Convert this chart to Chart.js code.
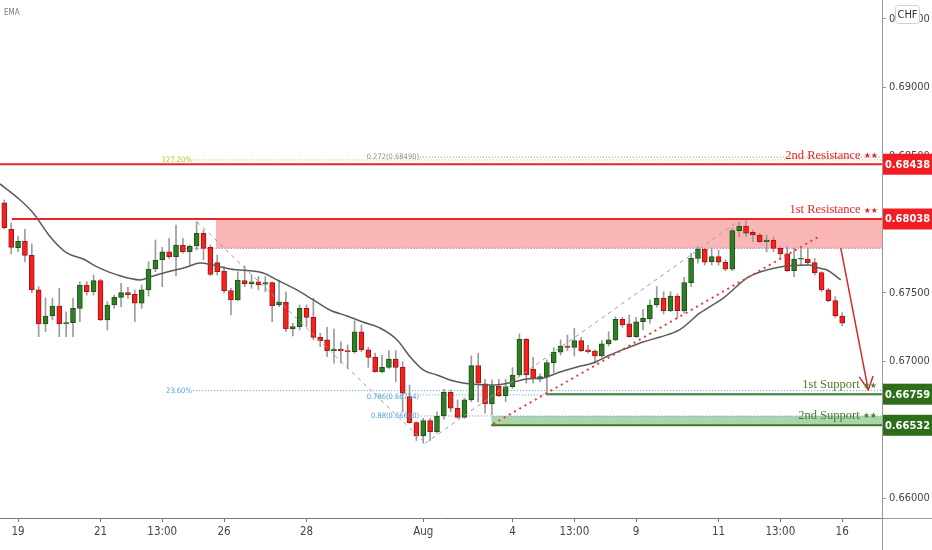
<!DOCTYPE html>
<html lang="en">
<head>
<meta charset="UTF-8" />
<title>USDCHF 4H</title>
<script src="https://cdn.jsdelivr.net/npm/chart.js"></script>
<style>
  html, body { margin: 0; padding: 0; background: #fff; }
  #wrap { width: 932px; height: 550px; }
</style>
</head>
<body>
<div id="wrap"><canvas id="chart" width="932" height="550"></canvas></div>
<script>
// 4h candles, index 0 = first bar on the left
const opens = [
  0.68157, 0.67963, 0.67829, 0.67875, 0.67773, 0.67520, 0.67272, 0.67330, 0.67403, 0.67272,
  0.67281, 0.67386, 0.67556, 0.67507, 0.67588, 0.67301, 0.67410, 0.67466, 0.67500, 0.67488,
  0.67423, 0.67520, 0.67673, 0.67739, 0.67799, 0.67763, 0.67848, 0.67799, 0.67841, 0.67934,
  0.67831, 0.67719, 0.67658, 0.67515, 0.67447, 0.67588, 0.67564, 0.67580, 0.67562, 0.67573,
  0.67410, 0.67430, 0.67235, 0.67252, 0.67386, 0.67320, 0.67174, 0.67155, 0.67077, 0.67089,
  0.67077, 0.67069, 0.67215, 0.67082, 0.67028, 0.66923, 0.66955, 0.67016, 0.66955, 0.66741,
  0.66551, 0.66454, 0.66566, 0.66485, 0.66600, 0.66773, 0.66656, 0.66590, 0.66717, 0.66967,
  0.66834, 0.66688, 0.66819, 0.66746, 0.66814, 0.66899, 0.67160, 0.66941, 0.66868, 0.66887,
  0.66989, 0.67065, 0.67111, 0.67101, 0.67150, 0.67082, 0.67074, 0.67038, 0.67126, 0.67155,
  0.67306, 0.67272, 0.67179, 0.67288, 0.67308, 0.67410, 0.67459, 0.67369, 0.67476, 0.67369,
  0.67573, 0.67751, 0.67819, 0.67726, 0.67763, 0.67722, 0.67671, 0.67953, 0.67987, 0.67941,
  0.67921, 0.67872, 0.67885, 0.67824, 0.67783, 0.67661, 0.67744, 0.67746, 0.67719, 0.67646,
  0.67520, 0.67442, 0.67330
];
const highs = [
  0.68177, 0.68009, 0.67914, 0.67963, 0.67856, 0.67544, 0.67461, 0.67459, 0.67532, 0.67361,
  0.67459, 0.67580, 0.67580, 0.67629, 0.67598, 0.67434, 0.67483, 0.67569, 0.67539, 0.67520,
  0.67556, 0.67726, 0.67885, 0.67831, 0.67897, 0.67994, 0.67897, 0.67848, 0.68018, 0.67958,
  0.67848, 0.67775, 0.67690, 0.67532, 0.67653, 0.67695, 0.67629, 0.67617, 0.67617, 0.67580,
  0.67593, 0.67507, 0.67277, 0.67410, 0.67410, 0.67459, 0.67204, 0.67247, 0.67235, 0.67142,
  0.67118, 0.67296, 0.67264, 0.67101, 0.67058, 0.67045, 0.67077, 0.67077, 0.66996, 0.66826,
  0.66558, 0.66583, 0.66583, 0.66631, 0.66795, 0.66790, 0.66717, 0.66731, 0.67038, 0.67058,
  0.66868, 0.66863, 0.66868, 0.66868, 0.66953, 0.67199, 0.67167, 0.67028, 0.66907, 0.67009,
  0.67099, 0.67155, 0.67191, 0.67240, 0.67174, 0.67118, 0.67082, 0.67150, 0.67215, 0.67325,
  0.67320, 0.67337, 0.67320, 0.67379, 0.67447, 0.67544, 0.67507, 0.67507, 0.67491, 0.67612,
  0.67788, 0.67836, 0.67824, 0.67824, 0.67812, 0.67739, 0.67970, 0.68018, 0.68026, 0.67958,
  0.67934, 0.67921, 0.67909, 0.67836, 0.67836, 0.67824, 0.67824, 0.67824, 0.67751, 0.67653,
  0.67532, 0.67471, 0.67354
];
const lows = [
  0.67965, 0.67783, 0.67799, 0.67726, 0.67500, 0.67179, 0.67215, 0.67301, 0.67179, 0.67179,
  0.67179, 0.67288, 0.67483, 0.67483, 0.67296, 0.67228, 0.67386, 0.67398, 0.67459, 0.67288,
  0.67386, 0.67476, 0.67653, 0.67544, 0.67751, 0.67622, 0.67788, 0.67702, 0.67812, 0.67739,
  0.67625, 0.67629, 0.67496, 0.67337, 0.67442, 0.67544, 0.67532, 0.67520, 0.67507, 0.67288,
  0.67398, 0.67215, 0.67184, 0.67228, 0.67252, 0.67155, 0.67106, 0.67033, 0.66985, 0.66985,
  0.66948, 0.67058, 0.67069, 0.66955, 0.66919, 0.66916, 0.66948, 0.66850, 0.66631, 0.66547,
  0.66420, 0.66401, 0.66420, 0.66474, 0.66576, 0.66631, 0.66583, 0.66585, 0.66704, 0.66704,
  0.66620, 0.66607, 0.66741, 0.66704, 0.66802, 0.66887, 0.66839, 0.66839, 0.66850, 0.66761,
  0.66916, 0.67045, 0.67077, 0.67038, 0.67069, 0.67058, 0.66985, 0.67028, 0.67111, 0.67150,
  0.67247, 0.67174, 0.67174, 0.67228, 0.67277, 0.67393, 0.67345, 0.67361, 0.67313, 0.67350,
  0.67544, 0.67715, 0.67702, 0.67702, 0.67702, 0.67661, 0.67661, 0.67909, 0.67909, 0.67872,
  0.67865, 0.67799, 0.67799, 0.67751, 0.67653, 0.67617, 0.67702, 0.67702, 0.67629, 0.67507,
  0.67434, 0.67320, 0.67257
];
const closes = [
  0.67974, 0.67831, 0.67875, 0.67773, 0.67520, 0.67272, 0.67330, 0.67403, 0.67272, 0.67281,
  0.67386, 0.67556, 0.67507, 0.67588, 0.67301, 0.67410, 0.67466, 0.67500, 0.67485, 0.67423,
  0.67520, 0.67673, 0.67739, 0.67799, 0.67763, 0.67848, 0.67799, 0.67841, 0.67934, 0.67824,
  0.67634, 0.67653, 0.67515, 0.67447, 0.67593, 0.67564, 0.67580, 0.67556, 0.67573, 0.67405,
  0.67434, 0.67235, 0.67252, 0.67386, 0.67320, 0.67174, 0.67150, 0.67077, 0.67089, 0.67077,
  0.67069, 0.67215, 0.67082, 0.67028, 0.66923, 0.66955, 0.67016, 0.66955, 0.66766, 0.66551,
  0.66454, 0.66566, 0.66485, 0.66600, 0.66773, 0.66656, 0.66590, 0.66717, 0.66967, 0.66839,
  0.66688, 0.66819, 0.66746, 0.66814, 0.66899, 0.67160, 0.66899, 0.66875, 0.66887, 0.66989,
  0.67065, 0.67111, 0.67101, 0.67150, 0.67077, 0.67069, 0.67038, 0.67126, 0.67155, 0.67306,
  0.67264, 0.67179, 0.67288, 0.67313, 0.67410, 0.67459, 0.67369, 0.67476, 0.67369, 0.67573,
  0.67751, 0.67819, 0.67722, 0.67763, 0.67722, 0.67671, 0.67953, 0.67987, 0.67934, 0.67921,
  0.67872, 0.67885, 0.67824, 0.67783, 0.67661, 0.67746, 0.67751, 0.67719, 0.67646, 0.67520,
  0.67442, 0.67330, 0.67277
];

// EMA (bar index, price)
const emaX = [-0.63, 2.3, 4.2, 6.7, 9.1, 11.5, 13.5, 16.4, 19.8, 21.2, 23.7, 26.6, 28.5, 30.4, 32.9,
  37.7, 39.7, 42.6, 45.0, 47.4, 49.9, 52.2, 54.7, 57.2, 59.1, 61.0, 63.0, 64.9, 66.8, 71.2, 74.1,
  76.1, 78.4, 80.9, 83.4, 85.7, 88.2, 90.7, 93.0, 95.5, 98.3, 101.3, 104.7, 108.4, 113.0, 117.2,
  118.6, 119.8, 121.8];
const emaY = [0.68294, 0.68177, 0.68082, 0.67907, 0.67790, 0.67746, 0.67688, 0.67630, 0.67593,
  0.67615, 0.67651, 0.67688, 0.67717, 0.67702, 0.67673, 0.67644, 0.67593, 0.67520, 0.67447,
  0.67374, 0.67330, 0.67286, 0.67242, 0.67155, 0.67031, 0.66936, 0.66899, 0.66863, 0.66841,
  0.66826, 0.66848, 0.66870, 0.66877, 0.66921, 0.66958, 0.66987, 0.67045, 0.67096, 0.67140,
  0.67177, 0.67228, 0.67352, 0.67461, 0.67615, 0.67688, 0.67702, 0.67680, 0.67666, 0.67593];

// time axis
const tickPos = [2, 14, 23, 32, 44, 61, 74, 83, 92, 104, 113, 122];
const tickLabels = ["19", "21", "13:00", "26", "28", "Aug", "4", "13:00", "9", "11", "13:00", "16"];
const priceTicks = [0.660, 0.665, 0.670, 0.675, 0.680, 0.685, 0.690, 0.695];

// levels
const resistance2 = 0.68438, resistance1 = 0.68038, resZoneLow = 0.67824;
const support1 = 0.66759, support2 = 0.66532, supZoneTop = 0.66600;
const fib272 = 0.68490, fib1272 = 0.68469, fib236 = 0.66785, fib786 = 0.66754, fib88 = 0.66600;

const xMin = -0.63, xMax = 127.8, yMin = 0.65855, yMax = 0.69637;
const RED = '#e8232a', GREEN = '#3a7a22', FIBBLUE = '#4d9fdc';
const AXIS_FONT = "'Liberation Sans Narrow', 'DejaVu Sans Condensed', sans-serif";

const up = closes.map((c, i) => c >= opens[i]);

function hline(v, x0, color, width, dash, order) {
  return {
    type: 'line', data: [{ x: x0, y: v }, { x: xMax, y: v }],
    borderColor: color, borderWidth: width, borderDash: dash || [],
    pointRadius: 0, fill: false, order: order
  };
}
function seg(x0, y0, x1, y1, color, width, dash, order) {
  return {
    type: 'line', data: [{ x: x0, y: y0 }, { x: x1, y: y1 }],
    borderColor: color, borderWidth: width, borderDash: dash || [],
    pointRadius: 0, fill: false, order: order
  };
}
function zone(top, bottom, x0, color) {
  return {
    type: 'line', data: [{ x: x0, y: top }, { x: xMax, y: top }],
    fill: { value: bottom }, backgroundColor: color,
    borderWidth: 0, pointRadius: 0, order: 20
  };
}

const datasets = [
  zone(resistance1, resZoneLow, 30.8, 'rgba(243, 70, 70, 0.40)'),
  zone(supZoneTop, support2, 70.9, 'rgba(60, 150, 60, 0.42)'),
  hline(resistance2, xMin, RED, 2, [], 8),
  hline(resistance1, 1.1, RED, 2, [], 8),
  hline(resZoneLow, 25.1, '#9b3fc4', 1, [1, 2], 8),
  hline(fib1272, 27.5, '#b5c21a', 1, [1, 2], 8),
  hline(fib272, 60.5, '#8c8c8c', 1, [1, 2], 8),
  hline(fib236, 27.5, FIBBLUE, 1, [1, 2], 8),
  hline(fib786, 60.5, FIBBLUE, 1, [1, 2], 8),
  hline(fib88, 60.7, FIBBLUE, 1, [1, 2], 8),
  hline(support1, 78.9, GREEN, 2, [], 8),
  hline(support2, 70.9, GREEN, 2, [], 8),
  {
    type: 'bar', label: 'wick',
    data: highs.map((h, i) => ({ x: i, y: [lows[i], h] })),
    backgroundColor: '#9c9c9c', barThickness: 1, grouped: false, order: 4
  },
  {
    type: 'bar', label: 'body',
    data: opens.map((o, i) => ({ x: i, y: [o, closes[i]] })),
    backgroundColor: up.map(u => u ? '#2f7d25' : '#f4221f'),
    borderColor: up.map(u => u ? '#1d5216' : '#a31313'),
    borderWidth: 1, borderSkipped: false, barThickness: 5, grouped: false, order: 3
  },
  {
    type: 'line', label: 'EMA',
    data: emaX.map((x, k) => ({ x: x, y: emaY[k] })),
    borderColor: '#5a5a5a', borderWidth: 1.5, pointRadius: 0,
    cubicInterpolationMode: 'monotone', fill: false, order: 2
  },
  seg(28.06, 0.68018, 61.3, 0.66401, '#9a9da6', 1, [4, 4], 1),
  seg(61.3, 0.66401, 106.8, 0.68018, '#9a9da6', 1, [4, 4], 1),
  seg(71.2, 0.66542, 118.5, 0.67907, '#ea3a3a', 2, [2, 4], 1),
  // projected move
  seg(121.8, 0.67826, 125.8, 0.66790, '#d42a2a', 1.5, [], 0),
  {
    type: 'line', data: [{ x: 124.5, y: 0.66885 }, { x: 125.8, y: 0.66790 }, { x: 126.5, y: 0.66892 }],
    borderColor: '#d42a2a', borderWidth: 1.5, pointRadius: 0, fill: false, order: 0
  }
];

function starLabel(ctx, text, right, y, color) {
  ctx.fillStyle = color;
  ctx.textBaseline = 'middle';
  ctx.textAlign = 'right';
  ctx.font = "8px 'DejaVu Sans'";
  const sw = ctx.measureText('★★').width;
  ctx.fillText('★★', right, y + 1);
  ctx.font = "12.5px 'Liberation Serif', serif";
  ctx.fillText(text, right - sw - 3, y);
}

const overlay = {
  id: 'overlay',
  afterDatasetsDraw(chart) {
    const ctx = chart.ctx, xs = chart.scales.x, ys = chart.scales.y;
    const X = v => xs.getPixelForValue(v), Y = v => ys.getPixelForValue(v);
    ctx.save();
    starLabel(ctx, '2nd Resistance', 878, Y(resistance2) - 9, RED);
    starLabel(ctx, '1st Resistance', 878, Y(resistance1) - 9, RED);
    starLabel(ctx, '1st Support', 877, Y(support1) - 9, '#4d7d2c');
    starLabel(ctx, '2nd Support', 877, Y(support2) - 10, '#4d7d2c');

    ctx.font = "7.5px " + AXIS_FONT;
    ctx.textBaseline = 'middle';
    ctx.textAlign = 'right';
    ctx.fillStyle = '#b5c21a';
    ctx.fillText('127.20%', X(27.3), Y(fib1272));
    ctx.fillStyle = '#8c8c8c';
    ctx.fillText('0.272(0.68490)', X(60.4), Y(fib272));
    ctx.fillStyle = FIBBLUE;
    ctx.fillText('23.60%', X(27.3), Y(fib236));
    ctx.fillText('0.786(0.66754)', X(60.4), Y(fib786) + 2);
    ctx.fillText('0.88(0.66600)', X(60.4), Y(fib88));

    ctx.fillStyle = '#7a7a7a';
    ctx.textAlign = 'left';
    ctx.font = "8px " + AXIS_FONT;
    ctx.fillText('EMA', 4, 13);
    ctx.restore();
  },
  afterDraw(chart) {
    const ctx = chart.ctx, ys = chart.scales.y, area = chart.chartArea;
    ctx.save();
    ctx.strokeStyle = '#9a9a9a';
    ctx.lineWidth = 1;
    ctx.beginPath();
    ctx.moveTo(Math.round(area.right) + 0.5, area.bottom);
    ctx.lineTo(Math.round(area.right) + 0.5, 550);
    ctx.moveTo(area.right, Math.round(area.bottom) + 0.5);
    ctx.lineTo(932, Math.round(area.bottom) + 0.5);
    ctx.stroke();

    const boxes = [[resistance2, '#f21d23'], [resistance1, '#f21d23'], [support1, '#2e6e1a'], [support2, '#2e6e1a']];
    ctx.font = "bold 11px " + AXIS_FONT;
    ctx.textAlign = 'center';
    ctx.textBaseline = 'middle';
    boxes.forEach(([v, c]) => {
      const y = ys.getPixelForValue(v);
      ctx.fillStyle = c;
      ctx.fillRect(area.right + 1, y - 10.5, 49, 21);
      ctx.fillStyle = '#fff';
      ctx.fillText(v.toFixed(5), area.right + 25.5, y + 0.5);
    });

    ctx.fillStyle = '#fff';
    ctx.strokeStyle = '#cfcfcf';
    ctx.beginPath();
    ctx.roundRect(895.5, 5.5, 24, 18, 3);
    ctx.fill();
    ctx.stroke();
    ctx.fillStyle = '#333';
    ctx.font = "11px " + AXIS_FONT;
    ctx.fillText('CHF', 907.5, 15);
    ctx.restore();
  }
};

new Chart(document.getElementById('chart'), {
  type: 'bar',
  data: { datasets: datasets },
  plugins: [overlay],
  options: {
    responsive: false,
    animation: false,
    events: [],
    layout: { padding: 0 },
    plugins: { legend: { display: false }, tooltip: { enabled: false } },
    scales: {
      x: {
        type: 'linear', min: xMin, max: xMax, offset: false,
        afterBuildTicks: s => { s.ticks = tickPos.map(v => ({ value: v })); },
        afterFit: s => { s.height = 32; s.paddingLeft = 0; s.paddingRight = 0; },
        ticks: {
          autoSkip: false, maxRotation: 0, padding: 3, color: '#444',
          font: { family: AXIS_FONT, size: 11.5 },
          callback: v => tickLabels[tickPos.indexOf(v)]
        },
        grid: { drawOnChartArea: false, offset: false, tickLength: 4, color: '#777' },
        border: { color: '#777' }
      },
      y: {
        position: 'right', min: yMin, max: yMax,
        afterBuildTicks: s => { s.ticks = priceTicks.map(v => ({ value: v })); },
        afterFit: s => { s.width = 50; s.paddingTop = 0; s.paddingBottom = 0; },
        ticks: {
          padding: 3, color: '#444',
          font: { family: AXIS_FONT, size: 11 },
          callback: v => v.toFixed(5)
        },
        grid: { drawOnChartArea: false, tickLength: 4, color: '#999' },
        border: { color: '#9a9a9a' }
      }
    }
  }
});
</script>
</body>
</html>
